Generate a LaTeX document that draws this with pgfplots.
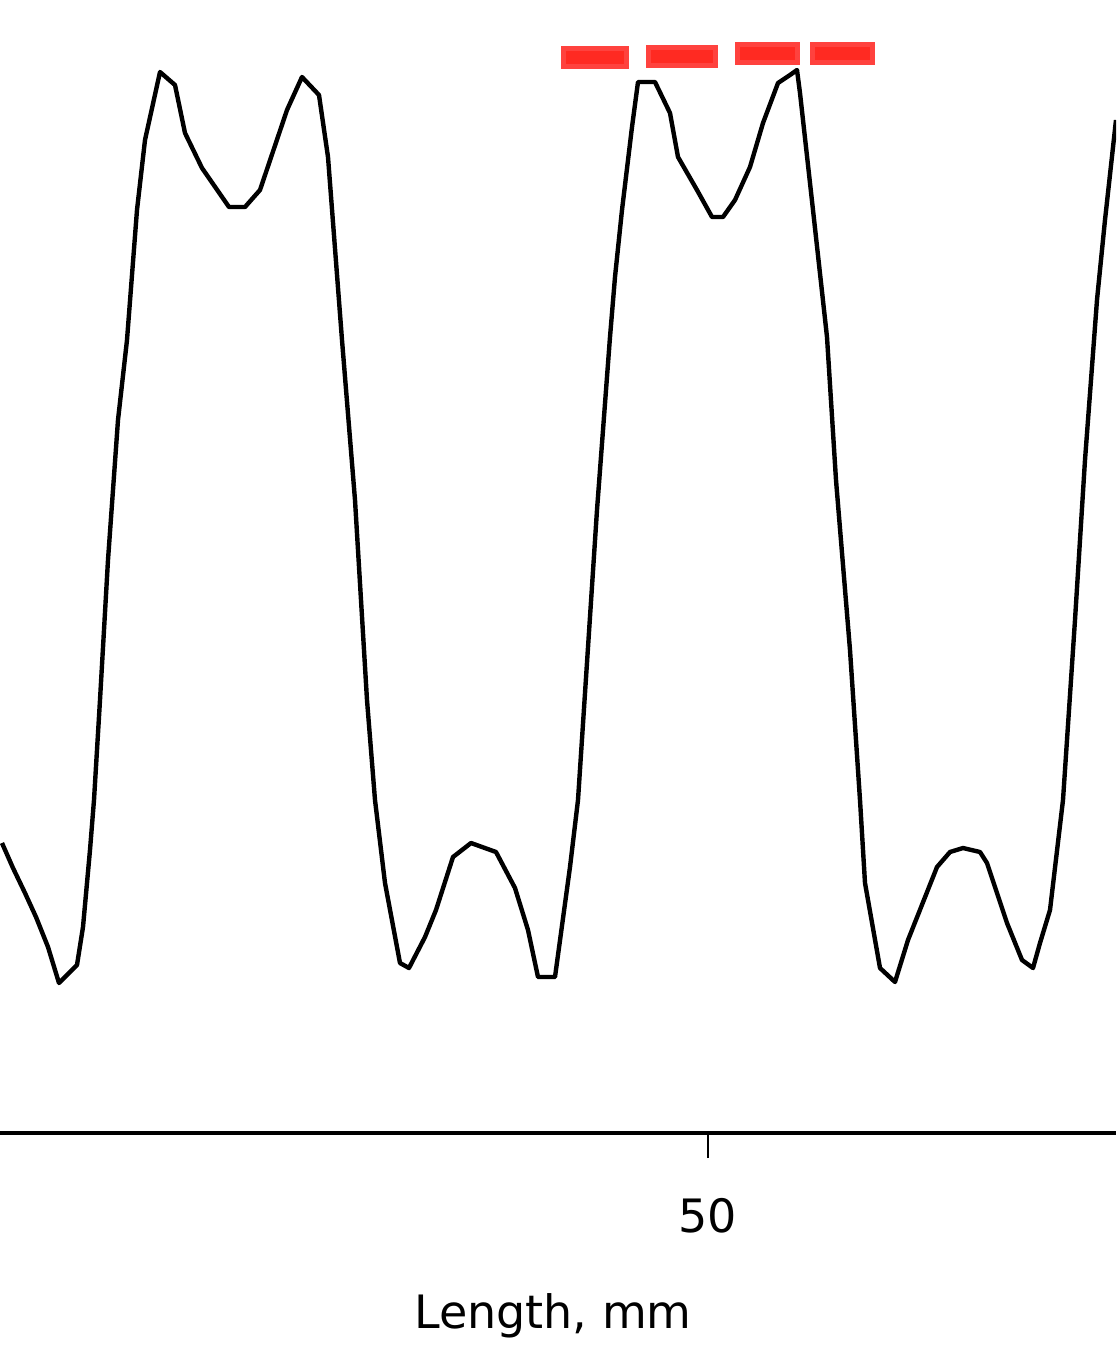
\documentclass[border=0pt]{standalone}
\usepackage{fontspec}
\setmainfont{DejaVu Sans}
\usepackage{pgfplots}
\pgfplotsset{compat=1.18}
\definecolor{dashouter}{RGB}{255,66,62}
\definecolor{dashinner}{RGB}{255,42,34}
\begin{document}
\begin{tikzpicture}
\begin{axis}[
  at={(0,0)}, anchor=north west,
  scale only axis,
  width=279pt, height=283.25pt,
  xmin=14.6, xmax=70.4,
  ymin=0, ymax=113.3,
  axis x line=bottom,
  axis y line=none,
  axis line style={line width=1.1pt, -},
  xtick={50},
  ytick=\empty,
  tick align=outside,
  major tick length=6.25pt,
  xtick style={line width=0.3pt, black},
  /pgf/number format/assume math mode=true,
  xticklabel style={font=\fontsize{11.5pt}{14pt}\selectfont, anchor=base, yshift=-18.5pt},
  xlabel={Length, mm},
  xlabel style={at={(axis description cs:0.4955,0)}, anchor=base, yshift=-48.75pt, font=\fontsize{11.5pt}{14pt}\selectfont},
  unbounded coords=jump,
  clip=true,
]
\addplot[black, line width=1.1pt, line join=round] coordinates {
(14.70,29.0)(15.25,26.5)(15.85,24.0)(16.40,21.6)(17.00,18.6)(17.55,15.0)(18.45,16.8)(18.75,20.6)(19.10,28.3)(19.30,33.3)(19.60,43.3)(20.00,57.3)(20.50,71.3)(20.95,79.3)(21.45,92.3)(21.85,99.3)(22.60,106.1)(23.35,104.8)(23.85,100.0)(24.70,96.5)(26.05,92.6)(26.85,92.6)(27.60,94.3)(28.95,102.3)(29.70,105.6)(30.55,103.8)(31.00,97.6)(31.70,79.3)(32.35,63.3)(32.95,43.3)(33.35,33.3)(33.85,25.0)(34.60,17.0)(35.05,16.5)(35.85,19.6)(36.40,22.3)(37.25,27.6)(38.15,29.0)(39.40,28.1)(40.35,24.5)(41.00,20.3)(41.50,15.6)(42.35,15.6)(43.10,26.6)(43.50,33.3)(44.45,62.3)(45.10,79.6)(45.35,85.6)(45.70,92.3)(46.20,100.6)(46.50,105.1)(47.35,105.1)(48.10,102.0)(48.50,97.6)(49.45,94.3)(50.20,91.6)(50.75,91.6)(51.35,93.3)(52.10,96.6)(52.75,101.0)(53.50,105.0)(54.10,105.8)(54.45,106.3)(54.60,104.0)(55.25,92.3)(55.95,79.6)(56.40,65.3)(57.10,48.3)(57.60,33.3)(57.85,25.0)(58.60,16.5)(59.35,15.1)(60.00,19.3)(61.45,26.6)(62.10,28.1)(62.75,28.5)(63.60,28.1)(63.95,27.0)(64.95,21.0)(65.70,17.3)(66.25,16.5)(66.60,19.0)(67.10,22.3)(67.75,33.3)(68.35,51.3)(68.85,67.3)(69.45,83.3)(69.85,91.3)(70.40,101.3)
};
\addplot[dashouter, line width=5.75pt, line cap=butt] coordinates {
(42.65,107.55)(46.05,107.55)(nan,nan)
(46.90,107.70)(50.50,107.70)(nan,nan)
(51.35,107.95)(54.60,107.95)(nan,nan)
(55.10,107.95)(58.35,107.95)
};
\addplot[dashinner, line width=3.25pt, line cap=butt] coordinates {
(42.90,107.55)(45.80,107.55)(nan,nan)
(47.15,107.70)(50.25,107.70)(nan,nan)
(51.60,107.95)(54.35,107.95)(nan,nan)
(55.35,107.95)(58.10,107.95)
};
\end{axis}
\pgfresetboundingbox
\useasboundingbox (0,0) rectangle (279pt,-340.5pt);
\end{tikzpicture}
\end{document}
